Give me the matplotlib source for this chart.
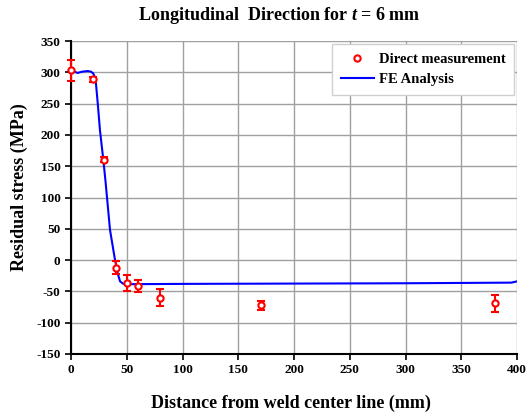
import matplotlib
matplotlib.use("Agg")
import matplotlib.pyplot as plt
from matplotlib.lines import Line2D

plt.rcParams['mathtext.fontset'] = 'custom'
plt.rcParams['mathtext.it'] = 'Liberation Serif:italic:bold'
plt.rcParams['mathtext.rm'] = 'Liberation Serif:bold'
plt.rcParams['axes.unicode_minus'] = False

meas_x = [0, 20, 30, 40, 50, 60, 80, 170, 380]
meas_y = [303, 289, 160, -12, -37, -41, -60, -72, -69]
meas_err = [17, 4, 4, 10, 13, 10, 14, 7, 14]

fe_x = [0, 3, 6, 10, 15, 18, 20, 22, 24, 26, 29, 31, 35, 39.5, 42, 44, 47, 50, 100, 200, 300, 395, 400]
fe_y = [305, 301, 299, 301, 302, 301, 298, 290, 250, 207, 160, 125, 48, 0, -22, -34, -38, -38.5, -38, -37.5, -37, -36, -34]

xticks = list(range(0, 401, 50))
yticks = list(range(-150, 351, 50))

W, H = 529, 418
fig = plt.figure(figsize=(W/100, H/100), dpi=100)
ax = fig.add_axes([71/W, 1-354/H, (517-71)/W, (354-41)/H])

ax.plot(fe_x, fe_y, color='#0000ff', lw=1.5, zorder=3)
eb = ax.errorbar(meas_x, meas_y, yerr=meas_err, fmt='o', mfc='white', mec='red', ecolor='red',
                 ms=4.5, mew=1.5, elinewidth=1.5, capsize=3, capthick=1.5, zorder=4)
for child in eb.get_children():
    child.set_clip_on(False)

ax.set_xlim(0, 400)
ax.set_ylim(-150, 350)
ax.set_xticks(xticks)
ax.set_yticks(yticks)
ax.grid(True, color='#a0a0a0', lw=1)
ax.set_axisbelow(True)
for s in ['top', 'right']:
    ax.spines[s].set_visible(False)
for s in ['left', 'bottom']:
    ax.spines[s].set_linewidth(1.5)
ax.tick_params(direction='out', length=4, width=1.2, labelsize=9.5)
for lbl in ax.get_xticklabels() + ax.get_yticklabels():
    lbl.set_fontweight('bold')
    lbl.set_family('Liberation Serif')

fig.text(291/W, 1-403/H, 'Distance from weld center line (mm)', family='Liberation Serif',
         fontweight='bold', fontsize=13, ha='center', va='center')
fig.text(19/W, 1-187/H, 'Residual stress (MPa)', family='Liberation Serif',
         fontweight='bold', fontsize=13, ha='center', va='center', rotation=90)
fig.text(279/W, 1-15/H, r'Longitudinal  Direction for $t$ = 6 mm', family='Liberation Serif',
         fontweight='bold', fontsize=13, ha='center', va='center')

handles = [Line2D([], [], ls='none', marker='o', mfc='white', mec='red', ms=4.5, mew=1.5),
           Line2D([], [], color='#0000ff', lw=1.5)]
labels = ['Direct measurement', 'FE Analysis']
leg = ax.legend(handles, labels, loc='upper right', prop={'family': 'Liberation Serif', 'weight': 'bold', 'size': 10.5},
                frameon=True, fancybox=False, edgecolor='#d0d0d0', framealpha=1, borderpad=0.6,
                handlelength=2.3, handletextpad=0.3, borderaxespad=0.2)

fig.savefig('out.png', dpi=100)
